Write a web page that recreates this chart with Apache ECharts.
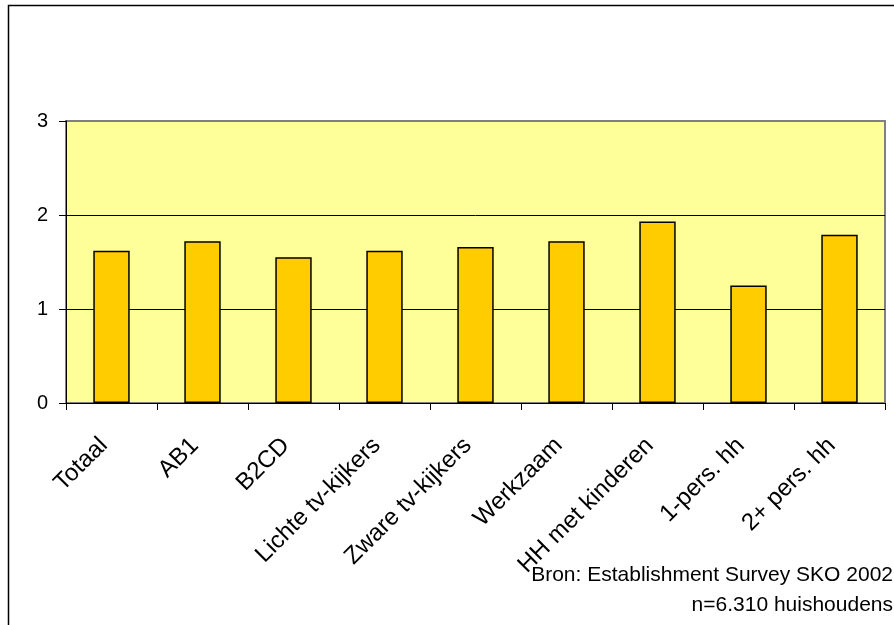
<!DOCTYPE html>
<html>
<head>
<meta charset="utf-8">
<script src="https://cdn.jsdelivr.net/npm/echarts@6/dist/echarts.min.js"></script>
<style>
html,body{margin:0;padding:0;background:#fff;}
#chart{width:894px;height:625px;}
</style>
</head>
<body>
<div id="chart"></div>
<script>
var categories = ['Totaal', 'AB1', 'B2CD', 'Lichte tv-kijkers', 'Zware tv-kijkers', 'Werkzaam', 'HH met kinderen', '1-pers. hh', '2+ pers. hh'];
var values = [1.62, 1.72, 1.55, 1.62, 1.66, 1.72, 1.93, 1.25, 1.79];
var yTicks = [0, 1, 2, 3];
var sourceLines = ['Bron: Establishment Survey SKO 2002', 'n=6.310 huishoudens'];

var FONT = '"Liberation Sans", Arial, sans-serif';
var chart = echarts.init(document.getElementById('chart'), null, {renderer: 'canvas'});
chart.setOption({
  animation: false,
  backgroundColor: '#ffffff',
  grid: {
    left: 66, right: 9, top: 121, bottom: 222,
    show: true, backgroundColor: '#FFFF99', borderColor: '#808080', borderWidth: 2
  },
  xAxis: {
    type: 'category',
    data: categories,
    boundaryGap: true,
    axisLine: {show: true, lineStyle: {color: '#000', width: 1}},
    axisTick: {show: true, length: 7, alignWithLabel: false, lineStyle: {color: '#000'}},
    axisLabel: {
      interval: 0, rotate: 45, margin: 31, padding: [0, 11, 0, 0],
      fontSize: 24, color: '#000', fontFamily: FONT
    },
    splitLine: {show: false}
  },
  yAxis: {
    type: 'value',
    min: yTicks[0], max: yTicks[yTicks.length - 1], interval: 1,
    axisLine: {show: true, lineStyle: {color: '#000', width: 1}},
    axisTick: {show: true, length: 7, lineStyle: {color: '#000'}},
    axisLabel: {fontSize: 20, color: '#000', fontFamily: FONT, margin: 18},
    splitLine: {show: true, lineStyle: {color: ['#000', '#000', '#000', '#808080'], width: 1}}
  },
  series: [{
    type: 'bar',
    data: values,
    barWidth: '40%',
    itemStyle: {color: '#FFCC00', borderColor: '#000', borderWidth: 1.5}
  }],
  graphic: [
    {type: 'rect', silent: true, z: 100,
     shape: {x: 8.5, y: 5.5, width: 1000, height: 1000},
     style: {fill: null, stroke: '#000', lineWidth: 1.5}},
    {type: 'text', silent: true, z: 100, x: 893, y: 575,
     style: {text: sourceLines[0], align: 'right', verticalAlign: 'middle', fontSize: 21, fontFamily: FONT, fill: '#000'}},
    {type: 'text', silent: true, z: 100, x: 893, y: 605,
     style: {text: sourceLines[1], align: 'right', verticalAlign: 'middle', fontSize: 21, fontFamily: FONT, fill: '#000'}}
  ]
});
</script>
</body>
</html>
